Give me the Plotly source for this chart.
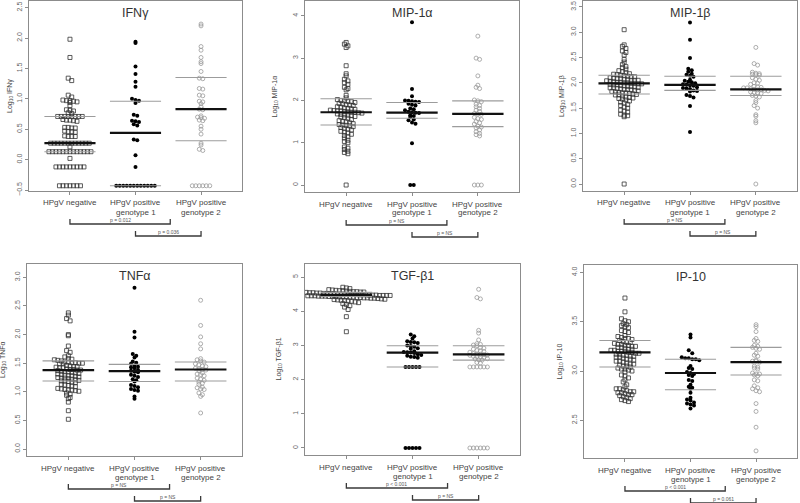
import plotly.graph_objects as go

W, H = 800, 503

categories_line1 = ["HPgV negative", "HPgV positive", "HPgV positive"]
categories_line2 = ["", "genotype 1", "genotype 2"]

# ---------------- data (log10 values) ----------------
ifn_neg = [1.98, 1.68, 1.34, 1.30, 1.06, 1.03, 0.98, 0.97, 0.97, 0.96, 0.95, 0.94, 0.89, 0.82, 0.81, 0.80,
           0.77, 0.76, 0.71, 0.71, 0.71, 0.71, 0.71, 0.71, 0.71, 0.71, 0.66, 0.65, 0.65, 0.64, 0.63, 0.53,
           0.53, 0.52, 0.52, 0.47, 0.46, 0.46, 0.45, 0.39, 0.38, 0.38, 0.38,
           0.27, 0.27, 0.27, 0.27, 0.27, 0.27, 0.27, 0.27, 0.27, 0.27, 0.27, 0.27, 0.21,
           0.13, 0.13, 0.13, 0.13, 0.13, 0.13, 0.13, 0.13, 0.13, 0.13, 0.13, 0.13, 0.13, 0.02,
           -0.12, -0.12, -0.12, -0.12, -0.12, -0.12, -0.12, -0.12, -0.12,
           -0.43, -0.43, -0.43, -0.43, -0.43, -0.43, -0.43]
ifn_g1 = [1.94, 1.92, 1.53, 1.41, 1.28, 1.20, 1.00, 0.98, 0.97, 0.93, 0.74, 0.72, 0.64, 0.63, 0.62, 0.58,
          0.56, 0.33, 0.32, 0.07, -0.12,
          -0.43, -0.43, -0.43, -0.43, -0.43, -0.43, -0.43, -0.43, -0.43, -0.43, -0.43, -0.43]
ifn_g2 = [2.23, 2.20, 1.86, 1.80, 1.68, 1.61, 1.58, 1.45, 1.34, 1.33, 1.17, 1.16, 1.06, 1.05, 0.96, 0.95,
          0.92, 0.87, 0.83, 0.82, 0.72, 0.70, 0.69, 0.68, 0.65, 0.64, 0.55, 0.50, 0.42, 0.27, 0.24, 0.17,
          0.15, -0.43, -0.43, -0.43, -0.43, -0.43, -0.43]

mip1a_neg = [3.37, 3.33, 3.29, 3.25, 2.82, 2.63, 2.58, 2.50, 2.46, 2.42, 2.38, 2.31, 2.28, 2.25, 2.12, 2.06,
             2.02, 2.00, 1.99, 1.98, 1.97, 1.95, 1.93, 1.92, 1.90, 1.89, 1.88, 1.85, 1.84, 1.82, 1.81, 1.80,
             1.79, 1.77, 1.76, 1.75, 1.75, 1.74, 1.73, 1.72, 1.72, 1.71, 1.70, 1.68, 1.67, 1.66, 1.65, 1.64,
             1.62, 1.61, 1.60, 1.58, 1.55, 1.52, 1.50, 1.49, 1.47, 1.45, 1.43, 1.42, 1.41, 1.40, 1.38, 1.36,
             1.34, 1.32, 1.30, 1.27, 1.25, 1.23, 1.20, 1.17, 1.14, 1.11, 1.06, 1.03, 1.00, 0.90, 0.87, 0.84,
             0.80, 0.77, 0.74, 0.00]
mip1a_g1 = [3.85, 2.27, 2.10, 2.00, 1.99, 1.98, 1.97, 1.96, 1.92, 1.90, 1.88, 1.81, 1.79, 1.77, 1.73, 1.72,
            1.71, 1.70, 1.65, 1.63, 1.61, 1.55, 1.53, 1.48, 1.45, 0.99, 0.00, 0.00]
mip1a_g2 = [3.52, 3.00, 2.97, 2.58, 2.36, 2.31, 2.28, 2.01, 1.99, 1.97, 1.91, 1.88, 1.85, 1.81, 1.77, 1.74,
            1.69, 1.68, 1.67, 1.60, 1.57, 1.55, 1.50, 1.47, 1.44, 1.39, 1.37, 1.35, 1.30, 1.26, 1.22, 1.19,
            1.16, 0.00, 0.00, 0.00]

mip1b_neg = [3.05, 2.75, 2.72, 2.68, 2.63, 2.60, 2.55, 2.46, 2.41, 2.36, 2.32, 2.30, 2.27, 2.24, 2.22, 2.20,
             2.18, 2.17, 2.16, 2.15, 2.14, 2.13, 2.12, 2.12, 2.10, 2.09, 2.08, 2.08, 2.07, 2.06, 2.05, 2.05,
             2.05, 2.04, 2.03, 2.02, 2.01, 2.01, 2.00, 2.00, 1.99, 1.99, 1.98, 1.98, 1.97, 1.96, 1.96, 1.95,
             1.94, 1.93, 1.93, 1.92, 1.91, 1.90, 1.90, 1.89, 1.88, 1.87, 1.87, 1.86, 1.85, 1.84, 1.83, 1.82,
             1.81, 1.80, 1.80, 1.79, 1.78, 1.77, 1.76, 1.76, 1.74, 1.72, 1.71, 1.70, 1.69, 1.68, 1.66, 1.64,
             1.62, 1.60, 1.57, 1.55, 1.52, 1.50, 1.46, 1.44, 1.42, 1.38, 1.36, 1.35, 1.33, 0.00]
mip1b_g1 = [3.19, 2.85, 2.49, 2.28, 2.25, 2.22, 2.18, 2.16, 2.14, 2.12, 2.06, 2.04, 2.02, 2.01, 1.99, 1.97,
            1.96, 1.95, 1.94, 1.91, 1.90, 1.89, 1.88, 1.85, 1.84, 1.83, 1.76, 1.74, 1.71, 1.54, 1.03]
mip1b_g2 = [2.70, 2.38, 2.35, 2.21, 2.19, 2.18, 2.17, 2.16, 2.15, 2.10, 2.07, 2.05, 2.00, 1.99, 1.97, 1.93,
            1.92, 1.91, 1.90, 1.90, 1.88, 1.87, 1.86, 1.86, 1.85, 1.84, 1.82, 1.81, 1.80, 1.79, 1.75, 1.74,
            1.72, 1.65, 1.61, 1.55, 1.50, 1.37, 1.34, 1.25, 1.21, 0.00]

tnf_neg = [2.38, 2.34, 2.28, 2.24, 2.00, 1.98, 1.80, 1.72, 1.69, 1.63, 1.61, 1.58, 1.57, 1.56, 1.55, 1.54,
           1.52, 1.52, 1.51, 1.51, 1.50, 1.50, 1.49, 1.49, 1.46, 1.45, 1.44, 1.44, 1.43, 1.42, 1.42, 1.40,
           1.39, 1.39, 1.38, 1.38, 1.37, 1.36, 1.35, 1.35, 1.34, 1.33, 1.32, 1.31, 1.30, 1.29, 1.28, 1.28,
           1.27, 1.26, 1.25, 1.24, 1.24, 1.23, 1.22, 1.21, 1.20, 1.19, 1.19, 1.18, 1.17, 1.16, 1.13, 1.12,
           1.11, 1.10, 1.09, 1.06, 1.05, 1.04, 1.03, 1.03, 1.02, 1.01, 0.98, 0.96, 0.94, 0.90, 0.88, 0.82,
           0.67, 0.52]
tnf_g1 = [2.82, 2.05, 1.95, 1.66, 1.63, 1.60, 1.53, 1.51, 1.49, 1.46, 1.44, 1.43, 1.41, 1.38, 1.37, 1.35,
          1.34, 1.30, 1.28, 1.26, 1.22, 1.20, 1.18, 1.12, 1.10, 1.08, 1.05, 1.03, 1.02, 0.92, 0.88]
tnf_g2 = [2.60, 2.16, 1.96, 1.84, 1.75, 1.58, 1.56, 1.54, 1.52, 1.49, 1.47, 1.45, 1.44, 1.41, 1.40, 1.39,
          1.38, 1.37, 1.33, 1.31, 1.30, 1.28, 1.24, 1.22, 1.20, 1.17, 1.15, 1.13, 1.08, 1.07, 1.05, 1.04,
          0.98, 0.95, 0.92, 0.63]

tgf_neg = [4.70, 4.68, 4.66, 4.63, 4.62, 4.61, 4.60, 4.60, 4.59, 4.58, 4.57, 4.57, 4.56, 4.56, 4.55, 4.55,
           4.54, 4.54, 4.53, 4.53, 4.52, 4.52, 4.51, 4.51, 4.50, 4.50, 4.50, 4.49, 4.49, 4.49, 4.48, 4.48,
           4.48, 4.47, 4.47, 4.47, 4.46, 4.46, 4.46, 4.46, 4.45, 4.45, 4.45, 4.44, 4.44, 4.44, 4.43, 4.43,
           4.43, 4.42, 4.42, 4.42, 4.41, 4.41, 4.40, 4.40, 4.39, 4.39, 4.38, 4.38, 4.37, 4.36, 4.35, 4.34,
           4.33, 4.32, 4.31, 4.30, 4.29, 4.27, 4.25, 4.22, 4.20, 4.16, 4.12, 4.05, 3.84, 3.40]
tgf_g1 = [3.32, 3.27, 3.20, 3.12, 3.10, 3.09, 3.07, 3.00, 2.98, 2.96, 2.92, 2.90, 2.83, 2.81, 2.80, 2.79,
          2.78, 2.74, 2.72, 2.70, 2.67, 2.66, 2.64, 2.37, 2.37, 2.37, 2.37, 2.37, 0.00, 0.00, 0.00, 0.00, 0.00]
tgf_g2 = [4.64, 4.40, 4.36, 3.44, 3.36, 3.16, 3.05, 3.03, 3.01, 2.99, 2.94, 2.92, 2.89, 2.85, 2.84, 2.82,
          2.80, 2.76, 2.75, 2.74, 2.73, 2.72, 2.71, 2.68, 2.67, 2.66, 2.65, 2.61, 2.60, 2.58, 2.57, 2.50,
          2.48, 2.37, 2.37, 2.37, 2.37, 2.37, 2.37, 0.00, 0.00, 0.00, 0.00, 0.00, 0.00]

ip10_neg = [3.74, 3.60, 3.53, 3.51, 3.50, 3.48, 3.47, 3.46, 3.45, 3.44, 3.41, 3.40, 3.39, 3.36, 3.35, 3.34,
            3.33, 3.33, 3.32, 3.31, 3.30, 3.29, 3.29, 3.28, 3.27, 3.27, 3.26, 3.26, 3.25, 3.25, 3.24, 3.24,
            3.23, 3.22, 3.22, 3.21, 3.21, 3.20, 3.20, 3.20, 3.19, 3.19, 3.18, 3.18, 3.17, 3.17, 3.16, 3.16,
            3.15, 3.15, 3.14, 3.14, 3.13, 3.12, 3.12, 3.11, 3.10, 3.10, 3.09, 3.08, 3.07, 3.07, 3.06, 3.05,
            3.05, 3.04, 3.03, 3.02, 3.02, 3.01, 3.00, 2.99, 2.96, 2.95, 2.93, 2.91, 2.89, 2.86, 2.84, 2.82,
            2.82, 2.81, 2.80, 2.79, 2.79, 2.78, 2.78, 2.77, 2.76, 2.76, 2.75, 2.74, 2.73, 2.72, 2.71, 2.70,
            2.69]
ip10_g1 = [3.37, 3.34, 3.21, 3.18, 3.14, 3.13, 3.13, 3.12, 3.12, 3.11, 3.05, 3.03, 3.02, 2.99, 2.98, 2.97,
           2.96, 2.95, 2.91, 2.90, 2.86, 2.84, 2.83, 2.82, 2.78, 2.73, 2.71, 2.70, 2.68, 2.67, 2.66, 2.65, 2.62]
ip10_g2 = [3.47, 3.45, 3.40, 3.33, 3.31, 3.30, 3.26, 3.25, 3.24, 3.23, 3.22, 3.18, 3.16, 3.15, 3.11, 3.10,
           3.10, 3.09, 3.05, 3.04, 3.03, 3.02, 2.98, 2.97, 2.97, 2.96, 2.95, 2.91, 2.90, 2.85, 2.83, 2.82,
           2.80, 2.79, 2.67, 2.59, 2.43, 2.19]

# medians and interquartile bounds per group [negative, genotype 1, genotype 2]
ifn_med, ifn_q1, ifn_q3 = [0.27, 0.44, 0.83], [0.13, -0.43, 0.31], [0.71, 0.96, 1.35]
mip1a_med, mip1a_q1, mip1a_q3 = [1.72, 1.71, 1.68], [1.42, 1.58, 1.38], [2.04, 1.95, 1.99]
mip1b_med, mip1b_q1, mip1b_q3 = [1.99, 1.96, 1.87], [1.78, 1.85, 1.75], [2.15, 2.13, 2.13]
tnf_med, tnf_q1, tnf_q3 = [1.38, 1.36, 1.39], [1.19, 1.18, 1.19], [1.54, 1.48, 1.52]
tgf_med, tgf_q1, tgf_q3 = [4.48, 2.79, 2.74], [4.43, 2.37, 2.57], [4.55, 2.99, 2.99]
ip10_med, ip10_q1, ip10_q3 = [3.19, 2.98, 3.09], [3.04, 2.81, 2.96], [3.31, 3.12, 3.24]

titles = ["IFNγ", "MIP-1α", "MIP-1β", "TNFα", "TGF-β1", "IP-10"]
ytitles = ["Log<sub>10</sub> IFNγ", "Log<sub>10</sub> MIP-1α", "Log<sub>10</sub> MIP-1β",
           "Log<sub>10</sub> TNFα", "Log<sub>10</sub> TGF-β1", "Log<sub>10</sub> IP-10"]
pvals_12 = ["p = 0.012", "p = NS", "p = NS", "p = NS", "p < 0.001", "p < 0.001"]
pvals_23 = ["p = 0.036", "p = NS", "p = NS", "p = NS", "p = NS", "p = 0.061"]

yticks = [[-0.5, 0.0, 0.5, 1.0, 1.5, 2.0, 2.5], [0, 1, 2, 3, 4], [0.0, 0.5, 1.0, 1.5, 2.0, 2.5, 3.0, 3.5],
          [0.0, 0.5, 1.0, 1.5, 2.0, 2.5, 3.0], [0, 1, 2, 3, 4, 5], [2.5, 3.0, 3.5, 4.0]]
ytickfmt = [".1f", "d", ".1f", ".1f", "d", ".1f"]

panel_data = [
    (ifn_neg, ifn_g1, ifn_g2, ifn_med, ifn_q1, ifn_q3),
    (mip1a_neg, mip1a_g1, mip1a_g2, mip1a_med, mip1a_q1, mip1a_q3),
    (mip1b_neg, mip1b_g1, mip1b_g2, mip1b_med, mip1b_q1, mip1b_q3),
    (tnf_neg, tnf_g1, tnf_g2, tnf_med, tnf_q1, tnf_q3),
    (tgf_neg, tgf_g1, tgf_g2, tgf_med, tgf_q1, tgf_q3),
    (ip10_neg, ip10_g1, ip10_g2, ip10_med, ip10_q1, ip10_q3),
]

# ---------------- layout geometry (pixels) ----------------
boxes = [(29, 242, 1, 191), (305, 519, 1, 192), (583, 797, 1, 191),
         (27, 242, 264, 456), (305, 520, 264, 455), (584, 797, 265, 458)]
yranges = [(-0.516, 2.609), (-0.165, 4.35), (-0.138, 3.617),
           (-0.122, 3.234), (-0.205, 5.38), (2.118, 4.075)]
ytitle_off = [19, 30, 21, 24, 27, 25]
XR = (0.375, 3.625)


def px(x):
    return x / W


def py(y):
    return 1 - y / H


def swarm(vals, cat, ppu_y, ppu_x, d=3.5):
    rows = {}
    for v in vals:
        rows.setdefault(int(round(v * ppu_y / d)), []).append(v)
    xs, ys = [], []
    for k in sorted(rows):
        row = rows[k]
        n = len(row)
        for j, v in enumerate(row):
            xs.append(cat + (j - (n - 1) / 2) * d / ppu_x)
            ys.append(v)
    return xs, ys


fig = go.Figure()
FONT = "Liberation Sans, Arial, sans-serif"
styles = [dict(symbol="square-open", size=4, color="#333333", line=dict(width=0.8, color="#333333")),
          dict(symbol="circle", size=4, color="#000000", line=dict(width=0)),
          dict(symbol="circle-open", size=4, color="#999999", line=dict(width=0.8, color="#999999"))]

annotations = []
shapes = []
layout_axes = {}
for i in range(6):
    n = i + 1
    xa = "x" if n == 1 else f"x{n}"
    ya = "y" if n == 1 else f"y{n}"
    l, r, t, b = boxes[i]
    y0, y1 = yranges[i]
    ppu_x = (r - l) / (XR[1] - XR[0])
    ppu_y = (b - t) / (y1 - y0)
    neg, g1, g2, med, q1, q3 = panel_data[i]
    for gi, vals in enumerate([neg, g1, g2]):
        xs, ys = swarm(vals, gi + 1, ppu_y, ppu_x)
        fig.add_trace(go.Scatter(x=xs, y=ys, mode="markers", marker=styles[gi], xaxis=xa, yaxis=ya,
                                 showlegend=False, hoverinfo="y"))
    for gi in range(3):
        c = gi + 1
        for val, col, w in [(q1[gi], "#9c9c9c", 1.1), (q3[gi], "#9c9c9c", 1.1), (med[gi], "#111111", 2.2)]:
            fig.add_trace(go.Scatter(x=[c - 0.39, c + 0.39], y=[val, val], mode="lines",
                                     line=dict(color=col, width=w), xaxis=xa, yaxis=ya,
                                     showlegend=False, hoverinfo="skip"))
    axis_common = dict(showline=True, mirror=True, linecolor="#8c8c8c", linewidth=1, ticks="outside",
                       ticklen=3, tickcolor="#8c8c8c", showgrid=False, zeroline=False, automargin=False)
    layout_axes["xaxis" if n == 1 else f"xaxis{n}"] = dict(
        axis_common, domain=[px(l), px(r)], range=list(XR), anchor=ya, tickvals=[1, 2, 3],
        showticklabels=False)
    layout_axes["yaxis" if n == 1 else f"yaxis{n}"] = dict(
        axis_common, domain=[py(b), py(t)], range=[y0, y1], anchor=xa, tickvals=yticks[i],
        tickformat=ytickfmt[i], tickangle=-90, tickfont=dict(size=7, color="#666666", family=FONT))
    # category labels (two lines, as in the original)
    for gi in range(3):
        annotations.append(dict(text=categories_line1[gi], x=gi + 1, y=py(b + 12), xref=xa, yref="paper",
                                xanchor="center", yanchor="middle", showarrow=False,
                                font=dict(size=8, color="#444444", family=FONT)))
        if categories_line2[gi]:
            annotations.append(dict(text=categories_line2[gi], x=gi + 1, y=py(b + 21), xref=xa,
                                    yref="paper", xanchor="center", yanchor="middle", showarrow=False,
                                    font=dict(size=8, color="#444444", family=FONT)))
    # panel title
    annotations.append(dict(text=titles[i], x=px((l + r) / 2), y=py(t + 12), xref="paper", yref="paper",
                            xanchor="center", yanchor="middle", showarrow=False,
                            font=dict(size=12.5, color="#333333", family=FONT)))
    # y-axis title
    annotations.append(dict(text=ytitles[i], x=px(l - ytitle_off[i]), y=py((t + b) / 2), xref="paper",
                            yref="paper", xanchor="center", yanchor="middle", showarrow=False,
                            textangle=-90, font=dict(size=7, color="#444444", family=FONT)))
    # significance brackets
    for (xa0, xa1, top, bot, lab) in [(1.0, 2.53, b + 28, b + 33, pvals_12[i]),
                                      (2.0, 3.0, b + 40, b + 45, pvals_23[i])]:
        shapes.append(dict(type="path", xref=xa, yref="paper",
                           path=f"M {xa0},{py(top)} L {xa0},{py(bot)} L {xa1},{py(bot)} L {xa1},{py(top)}",
                           line=dict(color="#3a3a3a", width=1.3)))
        annotations.append(dict(text=lab, x=(xa0 + xa1) / 2, y=py(bot - 4), xref=xa, yref="paper",
                                xanchor="center", yanchor="middle", showarrow=False,
                                font=dict(size=5, color="#555555", family=FONT)))

fig.update_layout(template="none", width=W, height=H, margin=dict(l=0, r=0, t=0, b=0),
                  paper_bgcolor="white", plot_bgcolor="white", annotations=annotations, shapes=shapes,
                  font=dict(family=FONT), showlegend=False, **layout_axes)

fig.write_html("out.html", config={"displayModeBar": False},
               post_script="document.body.style.margin='0px';document.body.style.overflow='hidden';")
